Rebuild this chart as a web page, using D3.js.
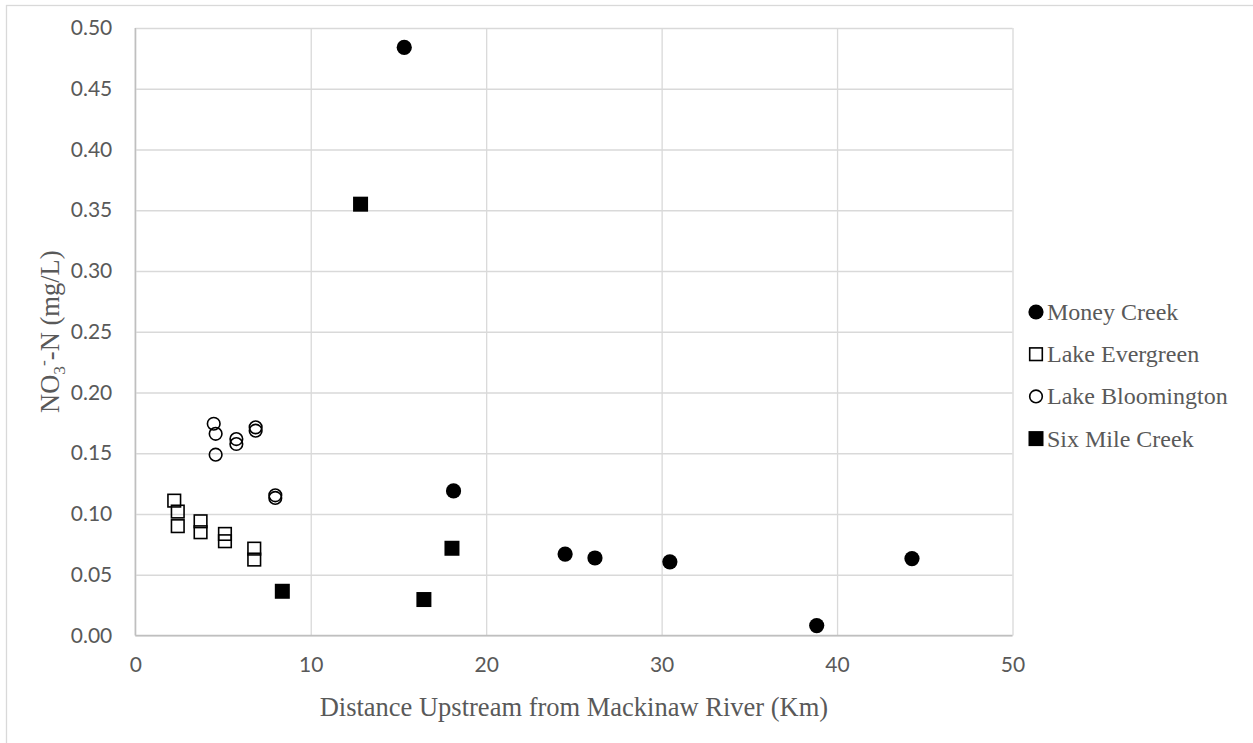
<!DOCTYPE html>
<html>
<head>
<meta charset="utf-8">
<script src="https://cdn.jsdelivr.net/npm/d3@7"></script>
<style>
    body { margin: 0; background: #fff; }
    svg { display: block; }
</style>
</head>
<body>
<div id="chart"></div>
<script>
'use strict';

// distance upstream (km) and NO3-N (mg/L)
const moneyCreekX = [15.33, 18.14, 24.5, 26.2, 30.47, 38.84, 44.27];
const moneyCreekY = [0.484, 0.119, 0.067, 0.0638, 0.0606, 0.0082, 0.0633];

const lakeEvergreenX = [2.22, 2.42, 2.42, 3.72, 3.72, 5.11, 5.11, 6.78, 6.78];
const lakeEvergreenY = [0.111, 0.102, 0.090, 0.094, 0.085, 0.0836, 0.0776, 0.0715, 0.0625];

const lakeBloomingtonX = [4.47, 4.58, 4.58, 5.76, 5.76, 6.86, 6.86, 7.98, 7.98];
const lakeBloomingtonY = [0.1743, 0.166, 0.1488, 0.1617, 0.1576, 0.1713, 0.1686, 0.1154, 0.1132];

const sixMileCreekX = [12.84, 18.05, 16.45, 8.38];
const sixMileCreekY = [0.355, 0.0718, 0.0296, 0.0364];

const xTicks = [0, 10, 20, 30, 40, 50];
const yTicks = [0, 0.05, 0.10, 0.15, 0.20, 0.25, 0.30, 0.35, 0.40, 0.45, 0.50];

const seriesNames = ['Money Creek', 'Lake Evergreen', 'Lake Bloomington', 'Six Mile Creek'];

(function(doc) {

    const width = 1253;
    const height = 743;
    const plot = {left: 135.3, right: 1012.5, top: 28, bottom: 635.5};

    const gridColor = '#d9d9d9';
    const axisColor = '#bfbfbf';
    const textColor = '#595959';
    const serif = '"Times New Roman", "Liberation Serif", serif';
    const sans = 'Lato, Calibri, "Noto Sans", sans-serif';

    const svg = d3.select('#chart').append('svg')
        .attr('width', width)
        .attr('height', height);

    // chart frame, runs off the bottom and right of the picture
    svg.append('rect')
        .attr('x', 6.5).attr('y', 5.5)
        .attr('width', width + 20).attr('height', height + 20)
        .attr('fill', '#fff')
        .attr('stroke', gridColor)
        .attr('stroke-width', 1.3);

    const x = d3.scaleLinear().domain([0, 50]).range([plot.left, plot.right]);
    const y = d3.scaleLinear().domain([0, 0.5]).range([plot.bottom, plot.top]);

    // gridlines
    svg.append('g')
        .attr('transform', `translate(0, ${plot.bottom})`)
        .call(d3.axisBottom(x).tickValues(xTicks).tickSize(-(plot.bottom - plot.top)).tickFormat(''))
        .call(g => g.select('.domain').remove())
        .call(g => g.selectAll('line').attr('stroke', gridColor).attr('stroke-width', 1.3));
    svg.append('g')
        .attr('transform', `translate(${plot.left}, 0)`)
        .call(d3.axisLeft(y).tickValues(yTicks).tickSize(-(plot.right - plot.left)).tickFormat(''))
        .call(g => g.select('.domain').remove())
        .call(g => g.selectAll('line').attr('stroke', gridColor).attr('stroke-width', 1.3));

    // axis lines
    svg.append('line')
        .attr('x1', plot.left).attr('x2', plot.right)
        .attr('y1', plot.bottom).attr('y2', plot.bottom)
        .attr('stroke', axisColor).attr('stroke-width', 1.5);
    svg.append('line')
        .attr('x1', plot.left).attr('x2', plot.left)
        .attr('y1', plot.top).attr('y2', plot.bottom)
        .attr('stroke', axisColor).attr('stroke-width', 1.5);

    // tick labels
    const xAxis = svg.append('g')
        .attr('transform', `translate(0, ${plot.bottom})`)
        .call(d3.axisBottom(x).tickValues(xTicks).tickSize(0).tickPadding(22).tickFormat(d3.format('d')));
    const yAxis = svg.append('g')
        .attr('transform', `translate(${plot.left}, 0)`)
        .call(d3.axisLeft(y).tickValues(yTicks).tickSize(0).tickPadding(23).tickFormat(d3.format('.2f')));
    for (const g of [xAxis, yAxis]) {
        g.select('.domain').remove();
        g.selectAll('text')
            .attr('fill', textColor)
            .style('font-family', sans)
            .style('font-size', '21px');
    }

    // axis titles
    svg.append('text')
        .attr('x', (plot.left + plot.right) / 2)
        .attr('y', 716)
        .attr('text-anchor', 'middle')
        .attr('fill', textColor)
        .style('font-family', serif)
        .style('font-size', '26.5px')
        .text('Distance Upstream from Mackinaw River (Km)');

    const yTitle = svg.append('text')
        .attr('transform', `translate(59, ${(plot.top + plot.bottom) / 2}) rotate(-90)`)
        .attr('text-anchor', 'middle')
        .attr('fill', textColor)
        .style('font-family', serif)
        .style('font-size', '26.5px');
    yTitle.append('tspan').text('NO');
    yTitle.append('tspan').attr('dy', 6).style('font-size', '17.5px').text('3');
    yTitle.append('tspan').attr('dy', -16).style('font-size', '17.5px').text('-');
    yTitle.append('tspan').attr('dy', 10).text('-N (mg/L)');

    // markers
    const drawMarker = (g, kind, cx, cy) => {
        if (kind === 'filledCircle') {
            g.append('circle').attr('cx', cx).attr('cy', cy).attr('r', 7.6).attr('fill', '#000');
        } else if (kind === 'openCircle') {
            g.append('circle').attr('cx', cx).attr('cy', cy).attr('r', 6.3)
                .attr('fill', 'none').attr('stroke', '#000').attr('stroke-width', 1.6);
        } else if (kind === 'openSquare') {
            g.append('rect').attr('x', cx - 6.3).attr('y', cy - 6.3).attr('width', 12.6).attr('height', 12.6)
                .attr('fill', 'none').attr('stroke', '#000').attr('stroke-width', 1.6);
        } else {
            g.append('rect').attr('x', cx - 7.5).attr('y', cy - 7.5).attr('width', 15).attr('height', 15)
                .attr('fill', '#000');
        }
    };

    const series = [
        {xs: moneyCreekX, ys: moneyCreekY, kind: 'filledCircle'},
        {xs: lakeEvergreenX, ys: lakeEvergreenY, kind: 'openSquare'},
        {xs: lakeBloomingtonX, ys: lakeBloomingtonY, kind: 'openCircle'},
        {xs: sixMileCreekX, ys: sixMileCreekY, kind: 'filledSquare'},
    ];

    const marks = svg.append('g');
    for (const s of series) {
        const g = marks.append('g');
        s.xs.forEach((v, i) => drawMarker(g, s.kind, x(v), y(s.ys[i])));
    }

    // legend
    const legend = svg.append('g');
    seriesNames.forEach((name, i) => {
        const cy = 312 + i * 42.2;
        drawMarker(legend, series[i].kind, 1036, cy);
        legend.append('text')
            .attr('x', 1047)
            .attr('y', cy)
            .attr('dy', '0.33em')
            .attr('fill', textColor)
            .style('font-family', serif)
            .style('font-size', '24px')
            .text(name);
    });

}(document));
</script>
</body>
</html>
